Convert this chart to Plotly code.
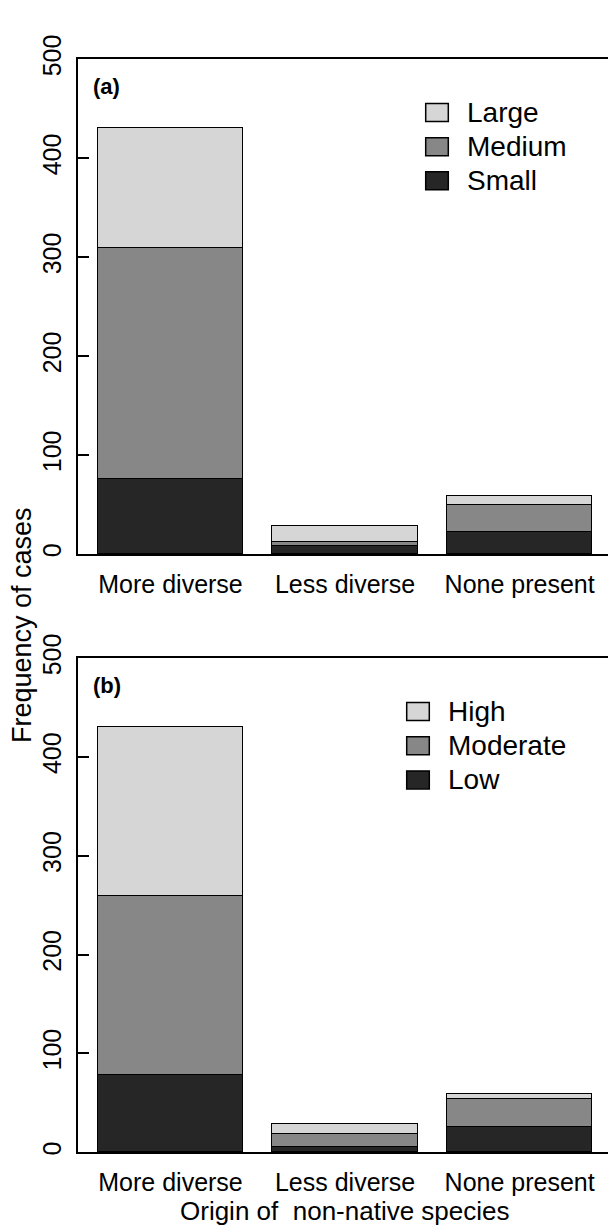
import plotly.graph_objects as go

# ---------------- data ----------------
categories = ["More diverse", "Less diverse", "None present"]

# panel (a): size classes
size_labels = ["Small", "Medium", "Large"]
small = [76, 8, 22]
medium = [233, 4, 27]
large = [121, 16, 10]

# panel (b): impact classes
impact_labels = ["Low", "Moderate", "High"]
low = [78, 5, 25]
moderate = [181, 13, 29]
high = [171, 10, 5]

y_ticks = [0, 100, 200, 300, 400, 500]

# ---------------- styling ----------------
W, H = 608, 1228
L = 78
FONT = "Liberation Sans, Arial, Helvetica, sans-serif"
shade = ["#262626", "#878787", "#d6d6d6"]  # dark, mid, light


def px_x(px):
    return (px - L) / (W - L)


def px_y(py):
    return 1 - py / H


panels = [
    dict(series=[small, medium, large], labels=size_labels, top=35, bottom=541.5,
         tag="(a)", leg_x0=425.7, xa="x", ya="y"),
    dict(series=[low, moderate, high], labels=impact_labels, top=648, bottom=1153.5,
         tag="(b)", leg_x0=406.7, xa="x2", ya="y2"),
]

fig = go.Figure()
annotations = []
shapes = []

for p in panels:
    for vals, name, col in zip(p["series"], p["labels"], shade):
        fig.add_trace(go.Bar(
            x=categories, y=vals, name=name, xaxis=p["xa"], yaxis=p["ya"],
            width=1 / 1.2, marker=dict(color=col, line=dict(color="black", width=1.5)),
            showlegend=False, hovertemplate="%{x}<br>" + name + ": %{y}<extra></extra>",
        ))
    # panel tag
    annotations.append(dict(
        text="<b>" + p["tag"] + "</b>", x=px_x(91), y=px_y(p["top"] + 28),
        xref="paper", yref="paper", xanchor="left", yanchor="middle",
        showarrow=False, font=dict(size=22, family=FONT, color="black")))
    # legend (top entry = last series)
    offsets = [54.5, 89.5, 124.5]
    for i, (name, col) in enumerate(zip(reversed(p["labels"]), reversed(shade))):
        cy = p["top"] + offsets[i]
        shapes.append(dict(
            type="rect", xref="paper", yref="paper",
            x0=px_x(p["leg_x0"]), x1=px_x(p["leg_x0"] + 22.6),
            y0=px_y(cy - 9.2), y1=px_y(cy + 9.2),
            fillcolor=col, line=dict(color="black", width=1.5)))
        annotations.append(dict(
            text=name, x=px_x(p["leg_x0"] + 39.5), y=px_y(cy),
            xref="paper", yref="paper", xanchor="left", yanchor="middle",
            showarrow=False, font=dict(size=28, family=FONT, color="black")))

annotations.append(dict(
    text="Frequency of cases", x=px_x(22), y=px_y(614), xref="paper", yref="paper",
    xanchor="center", yanchor="middle", textangle=-90, showarrow=False,
    font=dict(size=27, family=FONT, color="black")))
annotations.append(dict(
    text="Origin of  non-native species", x=px_x(344.5), y=px_y(1214), xref="paper",
    yref="paper", xanchor="center", yanchor="middle", showarrow=False,
    font=dict(size=26, family=FONT, color="black")))

xax = dict(type="category", range=[-0.53, 2.506], showline=True, mirror=True,
           linecolor="black", linewidth=1.5, ticks="", showgrid=False, zeroline=False,
           tickfont=dict(size=25, family=FONT, color="black"), ticklabelstandoff=7,
           domain=[0, 1], fixedrange=True)
yax = dict(range=[0, 500], tickvals=y_ticks, ticks="inside", ticklen=11, tickwidth=1.5,
           tickcolor="black", tickangle=-90, showline=True, linecolor="black",
           linewidth=1.5, showgrid=False, zeroline=False,
           tickfont=dict(size=25, family=FONT, color="black"), ticklabelstandoff=5,
           fixedrange=True)

fig.update_layout(
    width=W, height=H, margin=dict(l=L, r=0, t=0, b=0),
    paper_bgcolor="white", plot_bgcolor="white", barmode="stack", bargap=0,
    font=dict(family=FONT, color="black"),
    xaxis=dict(xax, anchor="y"),
    yaxis=dict(yax, anchor="x", domain=[px_y(panels[0]["bottom"]), px_y(panels[0]["top"])]),
    xaxis2=dict(xax, anchor="y2"),
    yaxis2=dict(yax, anchor="x2", domain=[px_y(panels[1]["bottom"]), px_y(panels[1]["top"])]),
    annotations=annotations, shapes=shapes, showlegend=False,
)

fig.write_html(
    "out.html",
    config={"displayModeBar": False},
    post_script="document.body.style.margin='0px';document.body.style.overflow='hidden';",
)
